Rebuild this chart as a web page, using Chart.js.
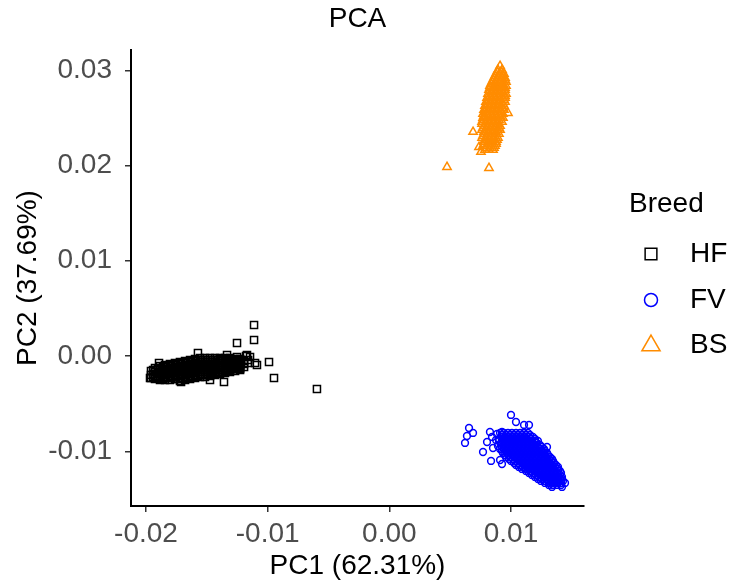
<!DOCTYPE html>
<html lang="en">
<head>
<meta charset="UTF-8">
<title>PCA</title>
<style>
    html, body { margin: 0; padding: 0; background: #fff; }
    #chart { display: block; }
</style>
</head>
<body>
<canvas id="chart" width="731" height="587"></canvas>
<script src="https://cdn.jsdelivr.net/npm/chart.js@4.4.0/dist/chart.umd.min.js"></script>
<script>
    const breeds = ['HF', 'FV', 'BS'];
    const breedColors = ['#000000', '#0000FF', '#FF8C00'];
    const breedShapes = ['rect', 'circle', 'triangle'];
    const xTicks = [-0.02, -0.01, 0.00, 0.01];
    const yTicks = [-0.01, 0.00, 0.01, 0.02, 0.03];

    // HF main cloud, grouped by PC1: [pc1, [pc2, ...]]
    const hfByPC1 = [
        [-0.01959, [-0.00157, -0.00199, -0.00231]],
        [-0.01942, [-0.00147, -0.00189, -0.00220]],
        [-0.01926, [-0.00126, -0.00147, -0.00168, -0.00189, -0.00210, -0.00231, -0.00241]],
        [-0.01901, [-0.00136, -0.00178, -0.00220]],
        [-0.01885, [-0.00105, -0.00126, -0.00147, -0.00168, -0.00189, -0.00210, -0.00231, -0.00252]],
        [-0.01860, [-0.00115, -0.00157, -0.00199, -0.00241]],
        [-0.01844, [-0.00094, -0.00115, -0.00136, -0.00157, -0.00178, -0.00199, -0.00220, -0.00231, -0.00252]],
        [-0.01819, [-0.00105, -0.00147, -0.00189, -0.00231]],
        [-0.01803, [-0.00084, -0.00105, -0.00126, -0.00147, -0.00168, -0.00189, -0.00210, -0.00231, -0.00252]],
        [-0.01778, [-0.00094, -0.00136, -0.00178, -0.00220]],
        [-0.01762, [-0.00073, -0.00094, -0.00115, -0.00136, -0.00157, -0.00178, -0.00199, -0.00220, -0.00241]],
        [-0.01737, [-0.00084, -0.00126, -0.00168, -0.00210, -0.00241]],
        [-0.01721, [-0.00063, -0.00084, -0.00105, -0.00126, -0.00147, -0.00168, -0.00189, -0.00210, -0.00231, -0.00262]],
        [-0.01696, [-0.00073, -0.00115, -0.00157, -0.00199, -0.00241]],
        [-0.01679, [-0.00052, -0.00073, -0.00094, -0.00115, -0.00136, -0.00157, -0.00178, -0.00199, -0.00220, -0.00231, -0.00252]],
        [-0.01655, [-0.00063, -0.00105, -0.00147, -0.00189, -0.00231]],
        [-0.01638, [-0.00042, -0.00063, -0.00084, -0.00105, -0.00126, -0.00147, -0.00168, -0.00189, -0.00210, -0.00220, -0.00241]],
        [-0.01614, [-0.00052, -0.00094, -0.00136, -0.00178, -0.00220]],
        [-0.01597, [-0.00031, -0.00052, -0.00073, -0.00094, -0.00115, -0.00136, -0.00157, -0.00178, -0.00199, -0.00210, -0.00231]],
        [-0.01573, [-0.00042, -0.00084, -0.00126, -0.00168, -0.00210]],
        [-0.01556, [-0.00021, -0.00042, -0.00063, -0.00084, -0.00105, -0.00126, -0.00147, -0.00168, -0.00189, -0.00199, -0.00220]],
        [-0.01532, [-0.00042, -0.00084, -0.00126, -0.00168, -0.00199]],
        [-0.01515, [-0.00021, -0.00042, -0.00063, -0.00084, -0.00105, -0.00126, -0.00147, -0.00168, -0.00189, -0.00199, -0.00220]],
        [-0.01490, [-0.00042, -0.00084, -0.00126, -0.00168, -0.00199]],
        [-0.01474, [-0.00021, -0.00042, -0.00063, -0.00084, -0.00105, -0.00126, -0.00147, -0.00157, -0.00178, -0.00189, -0.00210]],
        [-0.01449, [-0.00042, -0.00084, -0.00126, -0.00157, -0.00189]],
        [-0.01433, [-0.00021, -0.00042, -0.00063, -0.00084, -0.00105, -0.00115, -0.00136, -0.00147, -0.00168, -0.00178, -0.00199]],
        [-0.01408, [-0.00042, -0.00073, -0.00115, -0.00147, -0.00178]],
        [-0.01392, [-0.00021, -0.00031, -0.00052, -0.00073, -0.00094, -0.00105, -0.00126, -0.00147, -0.00168, -0.00178, -0.00189]],
        [-0.01367, [-0.00042, -0.00073, -0.00105, -0.00147, -0.00168]],
        [-0.01351, [-0.00021, -0.00031, -0.00052, -0.00063, -0.00084, -0.00105, -0.00126, -0.00136, -0.00157, -0.00168, -0.00178]],
        [-0.01326, [-0.00042, -0.00073, -0.00105, -0.00136, -0.00157]],
        [-0.01310, [-0.00021, -0.00031, -0.00052, -0.00063, -0.00084, -0.00094, -0.00115, -0.00126, -0.00147, -0.00157, -0.00168]],
        [-0.01285, [-0.00042, -0.00073, -0.00105, -0.00136]],
        [-0.01268, [-0.00031, -0.00042, -0.00063, -0.00073, -0.00094, -0.00105, -0.00126, -0.00136, -0.00157]],
        [-0.01244, [-0.00052, -0.00084, -0.00115, -0.00136]],
        [-0.01227, [-0.00031, -0.00042, -0.00063, -0.00073, -0.00094, -0.00105, -0.00126, -0.00136, -0.00147]],
        [-0.01194, [-0.00052, -0.00084, -0.00115]],
        [-0.01161, [-0.00042, -0.00073]]
    ];
    // HF samples at the edge of the cloud and beyond: [pc1, pc2]
    const hfOther = [
        [-0.01967, -0.00231], [-0.01893, -0.00073], [-0.01712, -0.00273], [-0.01573, 0.00031],
        [-0.01474, -0.00252], [-0.01359, -0.00273], [-0.01334, 0.00010], [-0.01252, -0.00010],
        [-0.01170, 0.00010], [-0.01145, -0.00010], [-0.01104, -0.00073], [-0.01088, -0.00094],
        [-0.01178, 0.00000], [-0.01112, 0.00325], [-0.01112, 0.00168], [-0.01252, 0.00136],
        [-0.00989, -0.00063], [-0.00948, -0.00231], [-0.00595, -0.00346]
    ];

    // FV main cloud, grouped by PC2: [pc2, [pc1, ...]]
    const fvByPC2 = [
        [-0.00808, [0.00910, 0.00942, 0.00975, 0.01008, 0.01041, 0.01074, 0.01107, 0.01139]],
        [-0.00829, [0.00926, 0.00959, 0.00992, 0.01025, 0.01057, 0.01090, 0.01123, 0.01156]],
        [-0.00850, [0.00918, 0.00951, 0.00983, 0.01016, 0.01049, 0.01082, 0.01115, 0.01148, 0.01180]],
        [-0.00871, [0.00901, 0.00934, 0.00967, 0.01000, 0.01033, 0.01065, 0.01098, 0.01131, 0.01164, 0.01197]],
        [-0.00892, [0.00901, 0.00934, 0.00967, 0.01000, 0.01033, 0.01065, 0.01098, 0.01131, 0.01164, 0.01197, 0.01221]],
        [-0.00913, [0.00918, 0.00951, 0.00983, 0.01016, 0.01049, 0.01082, 0.01115, 0.01148, 0.01180, 0.01213]],
        [-0.00934, [0.00918, 0.00951, 0.00983, 0.01016, 0.01049, 0.01082, 0.01115, 0.01148, 0.01180, 0.01213, 0.01238]],
        [-0.00955, [0.00926, 0.00959, 0.00992, 0.01025, 0.01057, 0.01090, 0.01123, 0.01156, 0.01189, 0.01222, 0.01254]],
        [-0.00976, [0.00910, 0.00942, 0.00975, 0.01008, 0.01041, 0.01074, 0.01107, 0.01139, 0.01172, 0.01205, 0.01238, 0.01271]],
        [-0.00997, [0.00926, 0.00959, 0.00992, 0.01025, 0.01057, 0.01090, 0.01123, 0.01156, 0.01189, 0.01222, 0.01254, 0.01279]],
        [-0.01018, [0.00934, 0.00967, 0.01000, 0.01033, 0.01065, 0.01098, 0.01131, 0.01164, 0.01197, 0.01230, 0.01263, 0.01296]],
        [-0.01039, [0.00951, 0.00983, 0.01016, 0.01049, 0.01082, 0.01115, 0.01148, 0.01180, 0.01213, 0.01246, 0.01279, 0.01304]],
        [-0.01060, [0.00959, 0.00992, 0.01025, 0.01057, 0.01090, 0.01123, 0.01156, 0.01189, 0.01222, 0.01254, 0.01287, 0.01320]],
        [-0.01081, [0.00983, 0.01016, 0.01049, 0.01082, 0.01115, 0.01148, 0.01180, 0.01213, 0.01246, 0.01279, 0.01312, 0.01337]],
        [-0.01102, [0.01000, 0.01033, 0.01065, 0.01098, 0.01131, 0.01164, 0.01197, 0.01230, 0.01263, 0.01296, 0.01328, 0.01345]],
        [-0.01123, [0.01025, 0.01057, 0.01090, 0.01123, 0.01156, 0.01189, 0.01222, 0.01254, 0.01287, 0.01320, 0.01353]],
        [-0.01144, [0.01041, 0.01074, 0.01107, 0.01139, 0.01172, 0.01205, 0.01238, 0.01271, 0.01304, 0.01337, 0.01369]],
        [-0.01165, [0.01065, 0.01098, 0.01131, 0.01164, 0.01197, 0.01230, 0.01263, 0.01296, 0.01328, 0.01361, 0.01386]],
        [-0.01186, [0.01090, 0.01123, 0.01156, 0.01189, 0.01222, 0.01254, 0.01287, 0.01320, 0.01353, 0.01386]],
        [-0.01207, [0.01123, 0.01156, 0.01189, 0.01222, 0.01254, 0.01287, 0.01320, 0.01353, 0.01386, 0.01402]],
        [-0.01228, [0.01148, 0.01180, 0.01213, 0.01246, 0.01279, 0.01312, 0.01345, 0.01378, 0.01411]],
        [-0.01249, [0.01172, 0.01205, 0.01238, 0.01271, 0.01304, 0.01337, 0.01369, 0.01402]],
        [-0.01270, [0.01197, 0.01230, 0.01263, 0.01296, 0.01328, 0.01361, 0.01394, 0.01419]],
        [-0.01291, [0.01222, 0.01254, 0.01287, 0.01320, 0.01353, 0.01386, 0.01419]],
        [-0.01312, [0.01246, 0.01279, 0.01312, 0.01345, 0.01378, 0.01411, 0.01427]],
        [-0.01333, [0.01279, 0.01312, 0.01345, 0.01378, 0.01411]],
        [-0.01354, [0.01312, 0.01345, 0.01378, 0.01411]]
    ];
    const fvOther = [
        [0.01000, -0.00619], [0.01041, -0.00693], [0.01107, -0.00724], [0.01148, -0.00724],
        [0.00655, -0.00756], [0.00688, -0.00808], [0.00638, -0.00840], [0.00622, -0.00913],
        [0.00827, -0.00798], [0.00844, -0.00850], [0.00803, -0.00903], [0.00852, -0.00966],
        [0.00770, -0.01008], [0.00836, -0.01102], [0.00910, -0.01092], [0.00926, -0.01134],
        [0.00926, -0.00798], [0.01296, -0.00955], [0.01337, -0.01375], [0.01419, -0.01375],
        [0.01444, -0.01333], [0.00885, -0.00819], [0.00877, -0.00882], [0.00893, -0.00945]
    ];

    // BS main cloud, grouped by PC2: [pc2, [pc1, ...]]
    const bsByPC2 = [
        [0.03003, [0.00893, 0.00926]],
        [0.02982, [0.00885, 0.00918]],
        [0.02961, [0.00877, 0.00910, 0.00942]],
        [0.02940, [0.00868, 0.00901, 0.00934]],
        [0.02919, [0.00860, 0.00893, 0.00926, 0.00951]],
        [0.02898, [0.00852, 0.00885, 0.00918, 0.00951]],
        [0.02877, [0.00844, 0.00877, 0.00910, 0.00942, 0.00959]],
        [0.02856, [0.00836, 0.00868, 0.00901, 0.00934]],
        [0.02835, [0.00827, 0.00860, 0.00893, 0.00926, 0.00959]],
        [0.02814, [0.00827, 0.00860, 0.00893, 0.00926, 0.00951]],
        [0.02793, [0.00819, 0.00852, 0.00885, 0.00918, 0.00951]],
        [0.02772, [0.00836, 0.00868, 0.00901, 0.00934]],
        [0.02751, [0.00811, 0.00844, 0.00877, 0.00910, 0.00942, 0.00959]],
        [0.02730, [0.00827, 0.00860, 0.00893, 0.00926, 0.00951]],
        [0.02709, [0.00803, 0.00836, 0.00868, 0.00901, 0.00934, 0.00951]],
        [0.02688, [0.00811, 0.00844, 0.00877, 0.00910, 0.00942]],
        [0.02667, [0.00794, 0.00827, 0.00860, 0.00893, 0.00926, 0.00951]],
        [0.02646, [0.00803, 0.00836, 0.00868, 0.00901, 0.00934]],
        [0.02625, [0.00786, 0.00819, 0.00852, 0.00885, 0.00918, 0.00942]],
        [0.02604, [0.00794, 0.00827, 0.00860, 0.00893, 0.00926]],
        [0.02583, [0.00778, 0.00811, 0.00844, 0.00877, 0.00910, 0.00942]],
        [0.02562, [0.00786, 0.00819, 0.00852, 0.00885, 0.00918]],
        [0.02541, [0.00770, 0.00803, 0.00836, 0.00868, 0.00901, 0.00934]],
        [0.02520, [0.00778, 0.00811, 0.00844, 0.00877, 0.00910]],
        [0.02499, [0.00770, 0.00786, 0.00819, 0.00852, 0.00885, 0.00918, 0.00934]],
        [0.02478, [0.00770, 0.00803, 0.00836, 0.00868, 0.00901]],
        [0.02457, [0.00762, 0.00794, 0.00827, 0.00860, 0.00893, 0.00926]],
        [0.02436, [0.00762, 0.00794, 0.00827, 0.00860, 0.00893]],
        [0.02415, [0.00778, 0.00811, 0.00844, 0.00877, 0.00910]],
        [0.02394, [0.00770, 0.00803, 0.00836, 0.00868, 0.00901]],
        [0.02373, [0.00762, 0.00794, 0.00827, 0.00860, 0.00893, 0.00910]],
        [0.02352, [0.00778, 0.00811, 0.00844, 0.00877]],
        [0.02331, [0.00778, 0.00811, 0.00844, 0.00877, 0.00901]],
        [0.02310, [0.00770, 0.00803, 0.00836, 0.00868]],
        [0.02289, [0.00762, 0.00794, 0.00827, 0.00860, 0.00893]],
        [0.02268, [0.00786, 0.00819, 0.00852, 0.00885]],
        [0.02247, [0.00778, 0.00811, 0.00844, 0.00877]],
        [0.02226, [0.00778, 0.00811, 0.00844, 0.00877]],
        [0.02205, [0.00770, 0.00803, 0.00836, 0.00868]],
        [0.02184, [0.00794, 0.00827, 0.00860]],
        [0.02163, [0.00786, 0.00819, 0.00852]]
    ];
    const bsOther = [
        [0.00910, 0.03045], [0.00688, 0.02352], [0.00474, 0.01984], [0.00819, 0.01974],
        [0.00737, 0.02194], [0.00753, 0.02142], [0.00975, 0.02551]
    ];

    const fontFamily = '"Liberation Sans", Arial, Helvetica, sans-serif';

    let fromCols = (cols) => cols.flatMap(([x, ys]) => ys.map(y => ({x: x, y: y})));
    let fromRows = (rows) => rows.flatMap(([y, xs]) => xs.map(x => ({x: x, y: y})));
    let fromPairs = (pairs) => pairs.map(([x, y]) => ({x: x, y: y}));

    const breedPoints = [
        fromCols(hfByPC1).concat(fromPairs(hfOther)),
        fromRows(fvByPC2).concat(fromPairs(fvOther)),
        fromRows(bsByPC2).concat(fromPairs(bsOther))
    ];
    const pointSizes = [5, 3.4, 4.8];

    let fmtTick = (v) => (Math.abs(v) < 1e-9 ? 0 : v).toFixed(2);

    let axisStyle = (ticks, title, titlePadding) => ({
        type: 'linear',
        afterBuildTicks: (scale) => { scale.ticks = ticks.map(v => ({value: v})); },
        ticks: {
            callback: fmtTick,
            color: '#4D4D4D',
            font: {size: 28, family: fontFamily},
            autoSkip: false,
            maxRotation: 0
        },
        grid: {
            drawOnChartArea: false,
            drawTicks: true,
            tickLength: 6,
            tickColor: '#333333',
            tickWidth: 1.5,
            lineWidth: 1.5
        },
        border: {display: true, color: '#000000', width: 2},
        title: {
            display: true,
            text: title,
            color: '#000000',
            font: {size: 28, family: fontFamily},
            padding: titlePadding
        }
    });

    let xAxis = axisStyle(xTicks, 'PC1 (62.31%)', {top: 0, bottom: 4});
    xAxis.min = -0.021233;
    xAxis.max = 0.016;
    xAxis.ticks.padding = 5;
    xAxis.afterFit = (scale) => { scale.height = 81; };

    let yAxis = axisStyle(yTicks, 'PC2 (37.69%)', {top: 11, bottom: 0});
    yAxis.min = -0.015748;
    yAxis.max = 0.032126;
    yAxis.ticks.padding = 13;
    yAxis.afterFit = (scale) => { scale.width = 131; };

    // legend on the right, drawn by hand so the key/label gap can match
    const breedLegend = {
        id: 'breedLegend',
        afterDraw(chart) {
            const ctx = chart.ctx;
            const rowY = [254, 300, 345.5];
            const keyR = [8.3, 6.5, 10.5];
            ctx.save();
            ctx.font = '28px ' + fontFamily;
            ctx.textBaseline = 'middle';
            ctx.textAlign = 'left';
            ctx.fillStyle = '#000000';
            ctx.fillText('Breed', 629, 204);
            breeds.forEach((b, i) => {
                ctx.lineWidth = 1.5;
                ctx.strokeStyle = breedColors[i];
                ctx.fillStyle = 'rgba(0,0,0,0)';
                Chart.helpers.drawPoint(ctx, {pointStyle: breedShapes[i], radius: keyR[i], borderWidth: 1.5, rotation: 0}, 651, rowY[i]);
                ctx.fillStyle = '#000000';
                ctx.fillText(b, 690, rowY[i] + (i === 2 ? -0.5 : 0));
            });
            ctx.restore();
        }
    };

    const chart = new Chart(document.getElementById('chart'), {
        type: 'scatter',
        data: {
            datasets: breeds.map((b, i) => ({
                label: b,
                data: breedPoints[i],
                pointStyle: breedShapes[i],
                pointRadius: pointSizes[i],
                borderColor: breedColors[i],
                backgroundColor: 'rgba(0,0,0,0)',
                borderWidth: 1.5
            }))
        },
        options: {
            responsive: false,
            devicePixelRatio: 1,
            animation: false,
            events: [],
            layout: {padding: {left: 0, right: 147, top: 0, bottom: 0}},
            scales: {x: xAxis, y: yAxis},
            plugins: {
                legend: {display: false},
                tooltip: {enabled: false},
                title: {
                    display: true,
                    text: 'PCA',
                    fullSize: false,
                    color: '#000000',
                    font: {size: 28, family: fontFamily, weight: 'normal'},
                    padding: {top: 2, bottom: 14.4}
                }
            }
        },
        plugins: [breedLegend]
    });
</script>
</body>
</html>
